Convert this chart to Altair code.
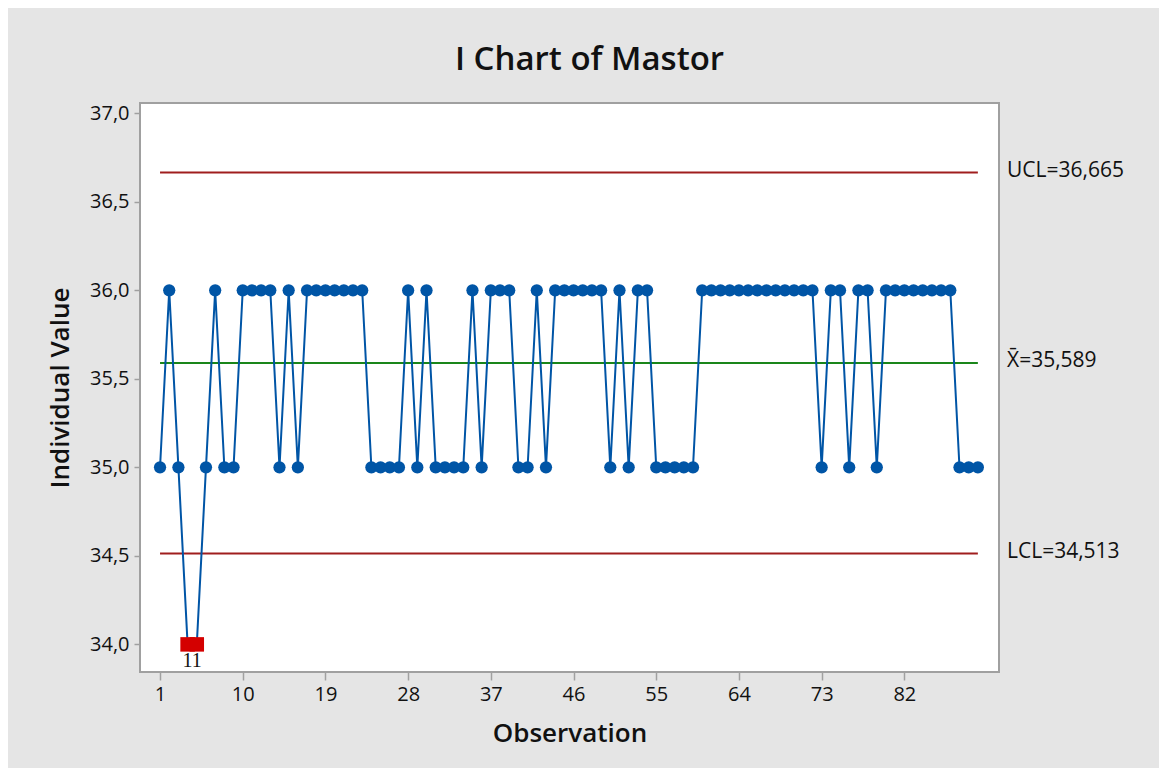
import altair as alt
import pandas as pd

# ---- data ----
observations = list(range(1, 91))
values = [
    35, 36, 35, 34, 34, 35, 36, 35, 35, 36,
    36, 36, 36, 35, 36, 35, 36, 36, 36, 36,
    36, 36, 36, 35, 35, 35, 35, 36, 35, 36,
    35, 35, 35, 35, 36, 35, 36, 36, 36, 35,
    35, 36, 35, 36, 36, 36, 36, 36, 36, 35,
    36, 35, 36, 36, 35, 35, 35, 35, 35, 36,
    36, 36, 36, 36, 36, 36, 36, 36, 36, 36,
    36, 36, 35, 36, 36, 35, 36, 36, 35, 36,
    36, 36, 36, 36, 36, 36, 36, 35, 35, 35,
]
limit_names = ["UCL", "CL", "LCL"]
limit_values = [36.665, 35.589, 34.513]
limit_labels = ["UCL=36,665", "X\u0304=35,589", "LCL=34,513"]
x_ticks = [1, 10, 19, 28, 37, 46, 55, 64, 73, 82]
y_ticks = [34.0, 34.5, 35.0, 35.5, 36.0, 36.5, 37.0]

FONT = "Open Sans"
W, H = 859, 569

df = pd.DataFrame({"obs": observations, "value": values})
df["ooc"] = df["value"] < limit_values[2]
df["test"] = ["1" if o else "" for o in df["ooc"]]

lim = pd.DataFrame({
    "name": limit_names,
    "value": limit_values,
    "label": limit_labels,
    "start": [min(observations)] * 3,
    "end": [max(observations)] * 3,
})

xscale = alt.Scale(domain=[-1.18, 92.3], nice=False, zero=False)
yscale = alt.Scale(domain=[33.844, 37.058], nice=False, zero=False)

xaxis = alt.Axis(
    values=x_ticks, title="Observation", grid=False, domain=False,
    tickSize=8, tickColor="#a0a0a0", tickWidth=1.5,
    labelFontSize=20, labelFont=FONT, labelColor="#111", labelPadding=4,
    titleFontSize=26, titleFont=FONT, titleFontWeight=600, titleColor="#111",
    titlePadding=16, labelFlush=False,
)
yaxis = alt.Axis(
    values=y_ticks, title="Individual Value", grid=False, domain=False,
    tickSize=6, tickColor="#a0a0a0", tickWidth=1.5,
    labelFontSize=20, labelFont=FONT, labelColor="#111", labelPadding=5,
    labelExpr="replace(format(datum.value, '.1f'), '.', ',')",
    titleFontSize=26, titleFont=FONT, titleFontWeight=600, titleColor="#111",
    titlePadding=16,
)

base = alt.Chart(df)

line = base.mark_line(color="#0055a6", strokeWidth=2).encode(
    x=alt.X("obs:Q", scale=xscale, axis=xaxis),
    y=alt.Y("value:Q", scale=yscale, axis=yaxis),
)

pts = base.transform_filter("!datum.ooc").mark_circle(
    size=150, color="#0055a6", opacity=1
).encode(x=alt.X("obs:Q", scale=xscale), y=alt.Y("value:Q", scale=yscale))

sq = base.transform_filter("datum.ooc").mark_square(
    size=210, color="#d40000", opacity=1
).encode(x=alt.X("obs:Q", scale=xscale), y=alt.Y("value:Q", scale=yscale))

test_lbl = base.transform_filter("datum.ooc").mark_text(
    font="Liberation Serif", fontSize=20, color="#111", dy=17
).encode(x=alt.X("obs:Q", scale=xscale), y=alt.Y("value:Q", scale=yscale), text="test:N")

rules = alt.Chart(lim).mark_rule(strokeWidth=2).encode(
    x=alt.X("start:Q", scale=xscale),
    x2="end:Q",
    y=alt.Y("value:Q", scale=yscale),
    color=alt.Color("name:N", scale=alt.Scale(domain=limit_names,
                    range=["#a01e1e", "#1a861a", "#a01e1e"]), legend=None),
)

lim_text = alt.Chart(lim).mark_text(
    align="left", baseline="middle", fontSize=21, font=FONT, color="#111", dy=-2
).encode(
    x=alt.value(W + 8),
    y=alt.Y("value:Q", scale=yscale),
    text="label:N",
)

chart = alt.layer(rules, line, pts, sq, test_lbl, lim_text).properties(
    width=W, height=H,
    title=alt.TitleParams(
        "I Chart of Mastor", fontSize=33, font=FONT, fontWeight=600,
        color="#111", anchor="middle", frame="group", baseline="alphabetic",
        offset=0, dx=20,
    ),
    background="#e5e5e5",
    padding={"left": 132, "top": 95, "right": 160, "bottom": 96},
    autosize=alt.AutoSizeParams(type="none"),
).configure_view(
    fill="white", stroke="#a0a0a0", strokeWidth=2
)

chart.save("out.html", embed_options={"renderer": "svg", "actions": False})
